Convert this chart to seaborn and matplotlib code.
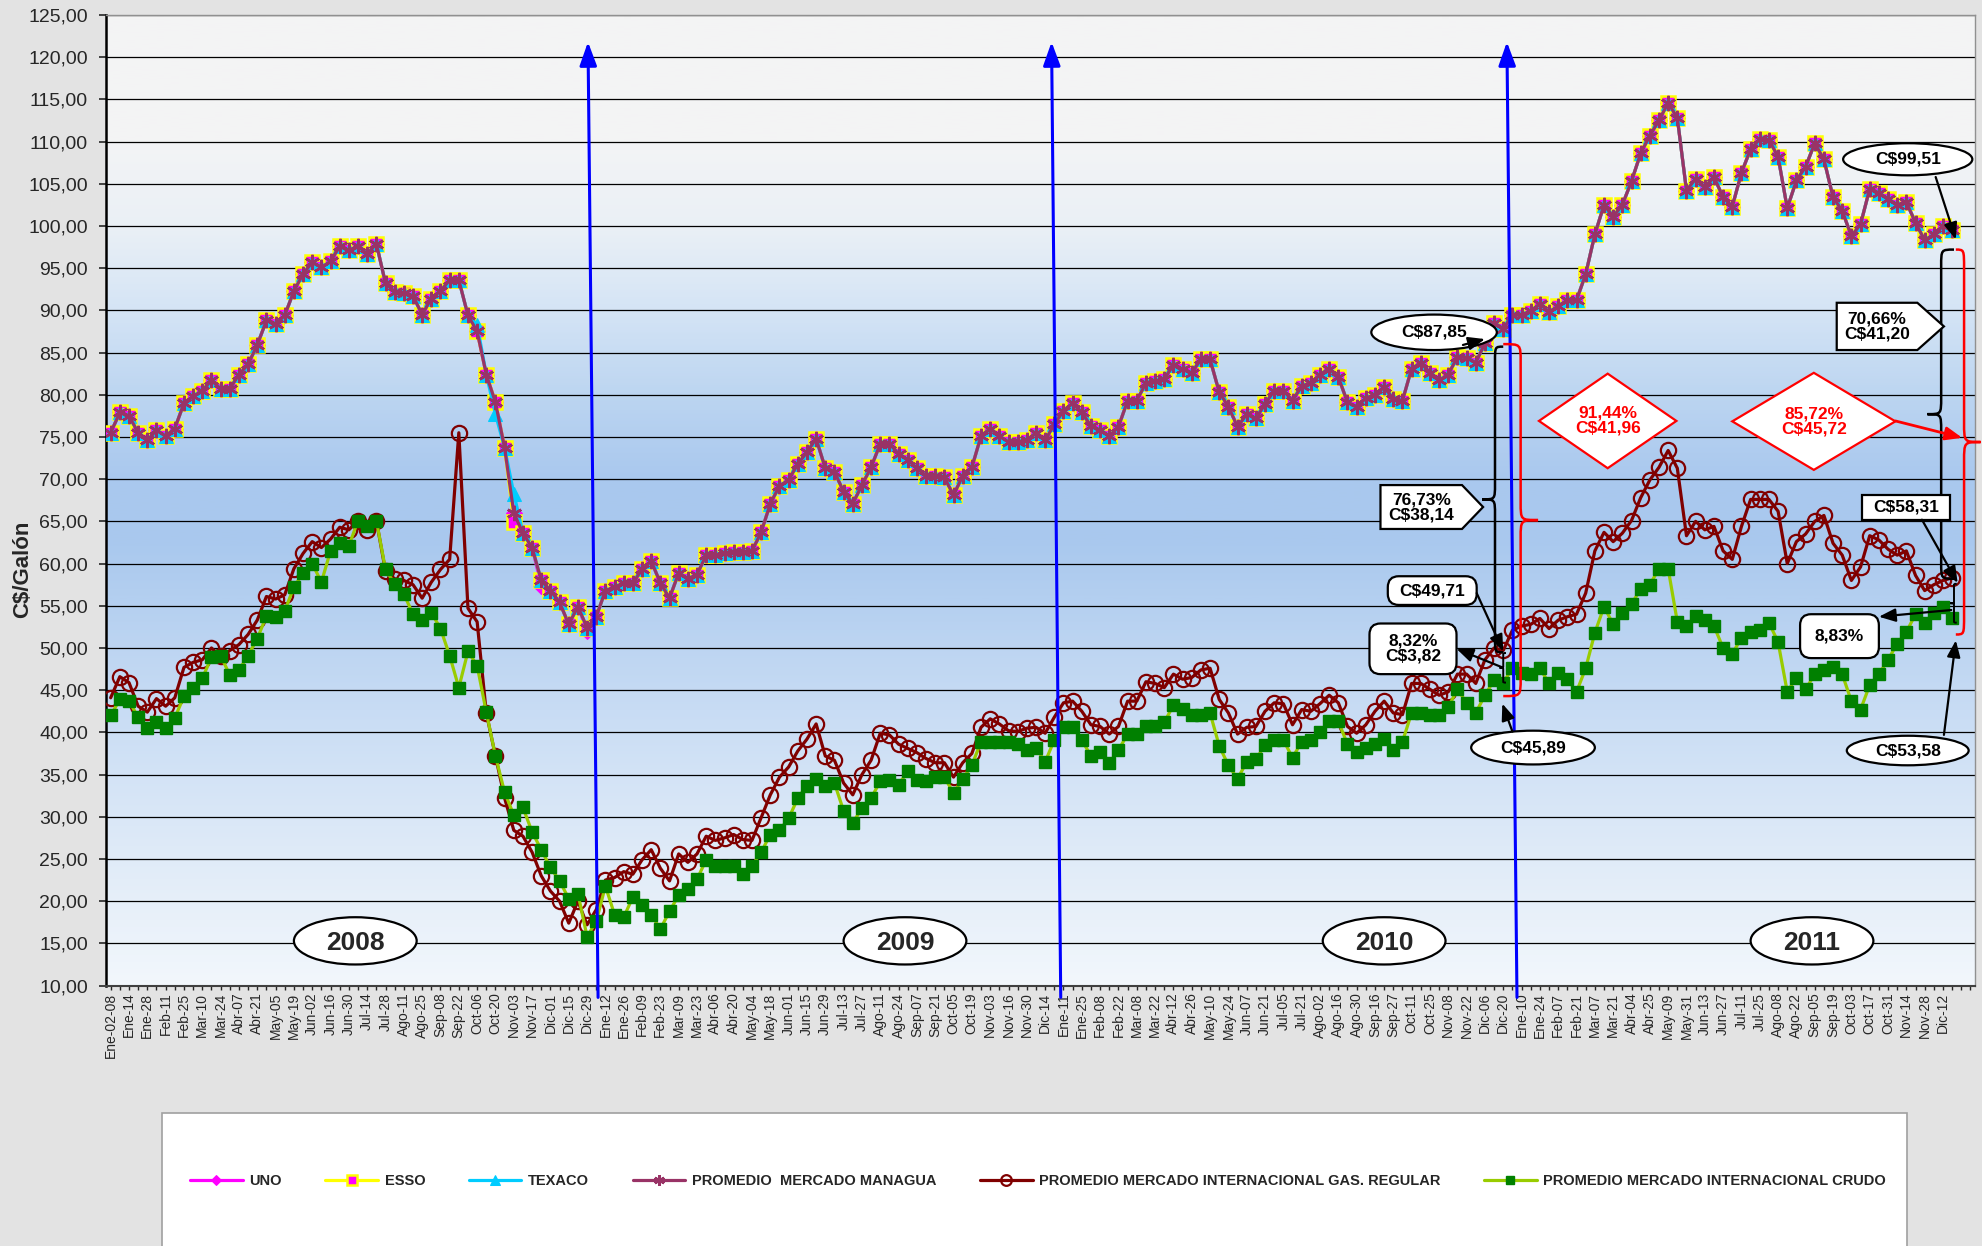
import numpy as np
import seaborn as sns
import matplotlib.pyplot as plt
from matplotlib.colors import LinearSegmentedColormap
from matplotlib.patches import Ellipse, Polygon, Rectangle, FancyBboxPatch, PathPatch
from matplotlib.path import Path
from matplotlib.ticker import FuncFormatter

# ---- data (weekly, Ene-02-08 .. Dic-19-11) ----
tick_labels = [
    # 2008
    "Ene-02-08", "Ene-14", "Ene-28", "Feb-11", "Feb-25", "Mar-10", "Mar-24", "Abr-07", "Abr-21",
    "May-05", "May-19", "Jun-02", "Jun-16", "Jun-30", "Jul-14", "Jul-28", "Ago-11", "Ago-25",
    "Sep-08", "Sep-22", "Oct-06", "Oct-20", "Nov-03", "Nov-17", "Dic-01", "Dic-15", "Dic-29",
    # 2009
    "Ene-12", "Ene-26", "Feb-09", "Feb-23", "Mar-09", "Mar-23", "Abr-06", "Abr-20", "May-04",
    "May-18", "Jun-01", "Jun-15", "Jun-29", "Jul-13", "Jul-27", "Ago-11", "Ago-24", "Sep-07",
    "Sep-21", "Oct-05", "Oct-19", "Nov-03", "Nov-16", "Nov-30", "Dic-14",
    # 2010
    "Ene-11", "Ene-25", "Feb-08", "Feb-22", "Mar-08", "Mar-22", "Abr-12", "Abr-26", "May-10",
    "May-24", "Jun-07", "Jun-21", "Jul-05", "Jul-21", "Ago-02", "Ago-16", "Ago-30", "Sep-16",
    "Sep-27", "Oct-11", "Oct-25", "Nov-08", "Nov-22", "Dic-06", "Dic-20",
    # 2011
    "Ene-10", "Ene-24", "Feb-07", "Feb-21", "Mar-07", "Mar-21", "Abr-04", "Abr-25", "May-09",
    "May-31", "Jun-13", "Jun-27", "Jul-11", "Jul-25", "Ago-08", "Ago-22", "Sep-05", "Sep-19",
    "Oct-03", "Oct-17", "Oct-31", "Nov-14", "Nov-28", "Dic-12",
]

managua = [
    75.5, 77.9, 77.5, 75.5, 74.6, 75.8, 75.1, 76.0, 79.0, 79.8,
    80.5, 81.7, 80.7, 80.7, 82.4, 83.6, 85.9, 88.8, 88.4, 89.4,
    92.3, 94.3, 95.7, 95.1, 95.8, 97.6, 97.1, 97.6, 96.7, 97.9,
    93.2, 92.2, 92.1, 91.7, 89.5, 91.4, 92.3, 93.6, 93.6, 89.4,
    87.5, 82.4, 79.1, 73.7, 66.0, 63.6, 61.9, 58.0, 56.8, 55.4,
    52.8, 54.9, 52.4, 53.7, 56.8, 57.2, 57.7, 57.7, 59.3, 60.3,
    57.7, 55.9, 58.9, 58.2, 58.7, 61.0, 61.0, 61.2, 61.4, 61.4,
    61.5, 63.7, 67.1, 69.2, 69.9, 71.8, 73.2, 74.8, 71.3, 70.9,
    68.5, 67.1, 69.3, 71.4, 74.2, 74.2, 73.0, 72.3, 71.3, 70.4,
    70.4, 70.2, 68.1, 70.4, 71.4, 75.1, 76.0, 75.1, 74.4, 74.4,
    74.6, 75.5, 74.6, 76.5, 78.1, 79.0, 77.9, 76.3, 75.8, 75.1,
    76.2, 79.3, 79.3, 81.4, 81.6, 81.9, 83.5, 83.0, 82.6, 84.2,
    84.2, 80.3, 78.6, 76.2, 77.7, 77.2, 78.9, 80.5, 80.5, 79.3,
    81.0, 81.4, 82.4, 83.1, 82.1, 79.1, 78.6, 79.6, 80.0, 80.9,
    79.5, 79.3, 83.1, 83.8, 82.6, 81.7, 82.4, 84.5, 84.4, 83.8,
    86.1, 88.5, 87.85, 89.4, 89.5, 89.9, 90.8, 89.8, 90.5, 91.2,
    91.2, 94.3, 99.0, 102.5, 101.1, 102.5, 105.3, 108.6, 110.7, 112.5,
    114.6, 112.8, 104.2, 105.6, 104.6, 105.8, 103.4, 102.3, 106.3, 109.1,
    110.3, 110.2, 108.2, 102.1, 105.4, 107.0, 109.8, 107.9, 103.4, 101.8,
    98.8, 100.2, 104.4, 103.9, 103.2, 102.5, 102.8, 100.4, 98.3, 99.0,
    100.0, 99.51,
]

gas_regular = [
    44.1, 46.6, 45.9, 43.1, 42.4, 44.0, 43.1, 44.1, 47.7, 48.3,
    48.6, 50.0, 49.0, 49.7, 50.4, 51.6, 53.3, 56.1, 55.8, 56.3,
    59.4, 61.2, 62.6, 61.9, 62.9, 64.3, 64.0, 65.1, 64.0, 65.1,
    59.1, 58.2, 58.0, 57.5, 55.9, 57.8, 59.3, 60.5, 75.5, 54.7,
    53.1, 42.3, 37.2, 32.2, 28.4, 27.7, 25.8, 23.0, 21.2, 20.0,
    17.4, 20.0, 17.2, 19.0, 22.5, 22.8, 23.5, 23.2, 24.9, 26.1,
    23.9, 22.4, 25.6, 24.6, 25.6, 27.7, 27.2, 27.5, 27.9, 27.3,
    27.2, 29.9, 32.6, 34.7, 35.9, 37.8, 39.2, 41.0, 37.2, 36.7,
    34.0, 32.6, 35.0, 36.7, 39.9, 39.7, 38.6, 38.1, 37.6, 36.9,
    36.4, 36.4, 34.7, 36.4, 37.5, 40.6, 41.6, 41.0, 40.2, 40.1,
    40.5, 40.6, 39.9, 41.8, 43.5, 43.7, 42.5, 40.9, 40.7, 39.8,
    40.7, 43.7, 43.7, 46.0, 45.8, 45.3, 46.9, 46.3, 46.5, 47.4,
    47.6, 43.9, 42.3, 39.8, 40.6, 40.7, 42.5, 43.5, 43.4, 40.9,
    42.7, 42.5, 43.4, 44.4, 43.5, 40.7, 39.9, 40.9, 42.5, 43.7,
    42.3, 42.1, 45.8, 45.8, 45.1, 44.4, 44.8, 46.9, 46.9, 45.8,
    48.6, 50.0, 49.71, 52.1, 52.6, 52.8, 53.5, 52.3, 53.3, 53.7,
    54.0, 56.5, 61.5, 63.7, 62.6, 63.6, 65.1, 67.8, 69.9, 71.4,
    73.4, 71.3, 63.3, 65.0, 64.0, 64.4, 61.5, 60.5, 64.4, 67.6,
    67.6, 67.6, 66.2, 60.0, 62.6, 63.5, 65.0, 65.7, 62.4, 61.0,
    58.0, 59.6, 63.3, 62.8, 61.7, 61.0, 61.5, 58.6, 56.8, 57.5,
    58.0, 58.31,
]

crudo = [
    42.0, 43.9, 43.7, 41.8, 40.5, 41.2, 40.5, 41.7, 44.3, 45.3,
    46.4, 48.9, 49.1, 46.8, 47.4, 49.1, 51.1, 53.8, 53.7, 54.4,
    57.2, 58.9, 60.0, 57.8, 61.5, 62.4, 62.1, 65.1, 64.4, 65.1,
    59.3, 57.6, 56.4, 54.0, 53.3, 54.2, 52.3, 49.1, 45.3, 49.6,
    47.9, 42.4, 37.2, 32.9, 30.2, 31.1, 28.2, 26.1, 24.0, 22.4,
    20.3, 20.9, 15.8, 17.6, 21.8, 18.4, 18.1, 20.5, 19.5, 18.4,
    16.7, 18.8, 20.7, 21.4, 22.6, 24.9, 24.2, 24.2, 24.2, 23.2,
    24.2, 25.8, 27.9, 28.4, 29.8, 32.2, 33.7, 34.5, 33.7, 34.0,
    30.7, 29.3, 31.0, 32.2, 34.2, 34.4, 33.8, 35.4, 34.4, 34.2,
    34.7, 34.7, 32.8, 34.5, 36.1, 38.9, 38.9, 38.9, 38.9, 38.6,
    37.9, 38.2, 36.5, 39.1, 40.6, 40.6, 39.1, 37.2, 37.7, 36.4,
    37.9, 39.8, 39.8, 40.7, 40.7, 41.2, 43.2, 42.8, 42.0, 42.1,
    42.3, 38.4, 36.1, 34.5, 36.5, 36.8, 38.5, 39.1, 39.1, 37.0,
    38.9, 39.1, 40.0, 41.3, 41.3, 38.6, 37.7, 38.2, 38.6, 39.2,
    37.9, 38.9, 42.3, 42.3, 42.0, 42.1, 43.0, 45.1, 43.5, 42.3,
    44.4, 46.2, 45.89, 47.6, 47.0, 46.9, 47.6, 45.8, 47.0, 46.3,
    44.8, 47.6, 51.8, 54.9, 52.8, 54.2, 55.2, 57.0, 57.5, 59.4,
    59.4, 53.1, 52.6, 53.8, 53.3, 52.6, 50.0, 49.3, 51.2, 51.9,
    52.1, 53.0, 50.7, 44.8, 46.5, 45.1, 46.9, 47.4, 47.7, 46.9,
    43.7, 42.7, 45.6, 46.9, 48.6, 50.5, 51.9, 54.0, 53.0, 54.2,
    54.9, 53.58,
]

# the three brands sit on the Managua average nearly everywhere; only the
# weeks where one of them visibly leaves the average are listed
uno_off = {47: 57.4, 52: 52.0}
esso_off = {44: 64.9}
texaco_off = {40: 88.3, 42: 77.7, 44: 68.3}

assert len(managua) == len(gas_regular) == len(crudo) == 2 * len(tick_labels)


def brand(offsets):
    vals = list(managua)
    for k, v in offsets.items():
        vals[k] = v
    return vals


# ---- style ----
sns.set_style("white")
plt.rcParams["font.family"] = ["Liberation Sans", "DejaVu Sans"]

fig = plt.figure(figsize=(19.83, 12.46), dpi=100, facecolor="#e3e3e3")
ax = fig.add_axes([0.0535, 0.209, 0.9425, 0.779])

weeks = np.arange(len(managua))
x_lo, x_hi = -0.5, 203.5

# plot area gradient (light at top and bottom, blue band around 65-70)
grad = LinearSegmentedColormap.from_list("area", [
    (0.0, "#f2f7fc"), (0.087, "#e6eff9"), (0.217, "#d3e3f6"), (0.348, "#bdd5f2"),
    (0.452, "#aac9ee"), (0.522, "#a9c8ee"), (0.609, "#bcd5f1"), (0.696, "#d4e4f5"),
    (0.783, "#eaf0f6"), (0.87, "#f3f4f5"), (1.0, "#f4f4f4")])
ax.imshow(np.linspace(0, 1, 400).reshape(-1, 1), extent=(x_lo, x_hi, 10, 125),
          origin="lower", aspect="auto", cmap=grad, zorder=0, interpolation="bilinear")

# ---- series ----
series = [
    ("UNO", brand(uno_off), dict(color="#ff00ff", marker="D", markersize=8,
                                 markerfacecolor="#ff00ff", markeredgecolor="#ff00ff")),
    ("ESSO", brand(esso_off), dict(color="#ffff00", marker="s", markersize=10.5,
                                   markerfacecolor="#ff00ff", markeredgecolor="#ffff00",
                                   markeredgewidth=1.8)),
    ("TEXACO", brand(texaco_off), dict(color="#00ccff", marker="^", markersize=10,
                                       markerfacecolor="#00ccff", markeredgecolor="#00ccff")),
    ("PROMEDIO  MERCADO MANAGUA", managua, dict(color="#993366", marker=(6, 2, 0), markersize=11,
                                                markerfacecolor="#993366",
                                                markeredgecolor="#993366", markeredgewidth=1.8)),
    ("PROMEDIO MERCADO INTERNACIONAL GAS. REGULAR", gas_regular,
     dict(color="#800000", marker="o", markersize=11, markerfacecolor="none",
          markeredgecolor="#800000", markeredgewidth=1.6)),
    ("PROMEDIO MERCADO INTERNACIONAL CRUDO", crudo,
     dict(color="#99cc00", marker="s", markersize=8.5, markerfacecolor="#008000",
          markeredgecolor="#008000", markeredgewidth=1)),
]
for name, vals, st in series:
    sns.lineplot(x=weeks, y=vals, ax=ax, label=name, linewidth=2.3, zorder=3, **st)

# ---- axes ----
ax.set_xlim(x_lo, x_hi)
ax.set_ylim(10, 125)
ax.set_yticks(np.arange(10, 126, 5))
ax.yaxis.set_major_formatter(FuncFormatter(lambda v, _: f"{v:.2f}".replace(".", ",")))
ax.set_xticks(np.arange(0, 2 * len(tick_labels), 2))
ax.set_xticklabels(tick_labels, rotation=90)
ax.set_xticks(np.arange(0, 204), minor=True)
ax.set_axisbelow(True)
ax.yaxis.grid(True, color="black", linewidth=0.9)
ax.xaxis.grid(False)
ax.tick_params(axis="y", direction="out", length=5, width=1.2, labelsize=14, pad=8, left=True)
ax.tick_params(axis="x", which="major", direction="out", length=3, width=1, labelsize=10, pad=2, bottom=True)
ax.tick_params(axis="x", which="minor", direction="out", length=3, width=1, bottom=True)
ax.set_xlabel("")
ax.set_ylabel("")
ax.spines["left"].set_color("black")
ax.spines["left"].set_linewidth(1.8)
ax.spines["bottom"].set_color("#404040")
ax.spines["bottom"].set_linewidth(1.5)
for s in ("top", "right"):
    ax.spines[s].set_color("#909090")
    ax.spines[s].set_linewidth(1)
fig.text(0.0116, 0.543, "C$/Galón", rotation=90, fontsize=16, fontweight="bold",
         ha="center", va="center")

# ---- year ovals ----
for yr, cx in [("2008", 26.7), ("2009", 86.7), ("2010", 139.0), ("2011", 185.7)]:
    ax.add_patch(Ellipse((cx, 15.3), 13.4, 5.6, facecolor="white", edgecolor="black",
                         linewidth=1.6, zorder=6))
    ax.text(cx, 15.1, yr, ha="center", va="center", fontsize=19, fontweight="bold", zorder=7)

# ---- blue period markers ----
for x_bot, x_top in [(53.2, 52.1), (103.7, 102.7), (153.5, 152.4)]:
    ax.annotate("", xy=(x_top, 121.8), xytext=(x_bot, 8.6),
                arrowprops=dict(arrowstyle="-|>,head_length=0.55,head_width=0.2", color="#0000ff",
                                lw=2.2, mutation_scale=26, shrinkA=0, shrinkB=0, clip_on=False),
                annotation_clip=False, zorder=5)


def callout(shape, x0, x1, y0, y1, text, color="black", tip=None, size=12.5):
    cx, cy = (x0 + x1) / 2, (y0 + y1) / 2
    if shape == "ellipse":
        patch = Ellipse((cx, cy), x1 - x0, y1 - y0)
    elif shape == "round":
        patch = FancyBboxPatch((x0, y0), x1 - x0, y1 - y0,
                               boxstyle="round,pad=0,rounding_size=1.2", mutation_aspect=1.09)
    elif shape == "rect":
        patch = Rectangle((x0, y0), x1 - x0, y1 - y0)
    elif shape == "pointer":
        patch = Polygon([(x0, y0), (x0, y1), (x1, y1), (tip, cy), (x1, y0)])
    else:
        patch = Polygon([(x0, cy), (cx, y1), (x1, cy), (cx, y0)])
    patch.set(facecolor="white", edgecolor=color, linewidth=1.6, zorder=7, clip_on=False)
    ax.add_patch(patch)
    ax.text(cx, cy, text, ha="center", va="center", fontsize=size, fontweight="bold",
            color=color, linespacing=1.0, zorder=8, clip_on=False)


def arrow(tail, head, color="black", lw=1.6):
    ax.annotate("", xy=head, xytext=tail,
                arrowprops=dict(arrowstyle="-|>,head_length=0.5,head_width=0.2", color=color,
                                lw=lw, mutation_scale=20, shrinkA=0, shrinkB=0, clip_on=False),
                annotation_clip=False, zorder=9)


def brace(x, y_top, y_bot, bulge, tip, color="black", lw=1.8):
    ym = (y_top + y_bot) / 2
    c = (y_top - y_bot) * 0.05
    xb = x + bulge
    verts = [(x, y_top), (xb, y_top), (xb, y_top), (xb, y_top - c),
             (xb, ym + c),
             (xb, ym), (xb, ym), (xb + tip, ym),
             (xb, ym), (xb, ym), (xb, ym - c),
             (xb, y_bot + c),
             (xb, y_bot), (xb, y_bot), (x, y_bot)]
    codes = [Path.MOVETO] + [Path.CURVE4] * 3 + [Path.LINETO] + [Path.CURVE4] * 6 + \
            [Path.LINETO] + [Path.CURVE4] * 3
    ax.add_patch(PathPatch(Path(verts, codes), fill=False, edgecolor=color, lw=lw,
                           zorder=6, clip_on=False))


# ---- Dec 2010 comparison ----
brace(152.0, 85.7, 49.5, -0.9, -1.4)
brace(152.0, 86.0, 44.3, 1.9, 1.9, color="#ff0000")
brace(152.3, 49.4, 45.9, -0.3, -0.4, lw=1.4)
callout("ellipse", 137.6, 151.3, 85.3, 89.5, "C$87,85")
arrow((147.6, 85.9), (150.0, 86.6))
callout("pointer", 138.6, 147.5, 64.1, 69.3, "76,73%\nC$38,14", tip=149.8)
callout("round", 139.4, 149.1, 55.1, 58.5, "C$49,71")
arrow((149.1, 56.5), (152.0, 49.6))
callout("round", 137.4, 146.9, 46.9, 52.9, "8,32%\nC$3,82")
arrow((151.9, 47.7), (146.9, 49.9))
callout("ellipse", 148.5, 162.0, 36.2, 40.2, "C$45,89")
arrow((153.0, 40.1), (151.9, 43.4))
callout("diamond", 155.9, 170.9, 71.3, 82.5, "91,44%\nC$41,96", color="#ff0000")

# ---- Dec 2011 comparison ----
brace(201.2, 97.2, 58.2, -1.4, -1.5)
brace(201.4, 97.2, 51.6, 0.9, 1.8, color="#ff0000")
brace(201.5, 57.6, 53.0, -0.3, -0.4, lw=1.4)
callout("ellipse", 189.1, 203.2, 106.0, 109.8, "C$99,51")
arrow((199.2, 105.8), (201.4, 98.4))
callout("pointer", 188.4, 197.2, 85.3, 90.9, "70,66%\nC$41,20", tip=200.1)
callout("diamond", 177.0, 194.8, 71.1, 82.6, "85,72%\nC$45,72", color="#ff0000")
arrow((194.8, 76.9), (202.1, 74.9), color="#ff0000", lw=2)
callout("rect", 191.2, 200.8, 65.2, 68.1, "C$58,31")
arrow((197.7, 65.2), (201.6, 57.7))
callout("round", 184.4, 193.0, 48.8, 54.0, "8,83%")
arrow((200.9, 54.5), (193.0, 53.7))
callout("ellipse", 189.5, 202.8, 36.1, 39.6, "C$53,58")
arrow((200.1, 39.7), (201.4, 50.9))

# ---- legend ----
handles, labels = ax.get_legend_handles_labels()
if ax.get_legend() is not None:
    ax.get_legend().remove()
fig.add_artist(Rectangle((0.0817, -0.01), 0.88, 0.1167, transform=fig.transFigure,
                         facecolor="white", edgecolor="#a0a0a0", linewidth=1.2))
fig.legend(handles, labels, loc="center", bbox_to_anchor=(0.5235, 0.0522), ncol=6,
           frameon=False, prop=dict(weight="bold", size=10.5), handlelength=3.6,
           handletextpad=0.45, columnspacing=3.0, markerscale=0.7)

fig.savefig("out.png", dpi=100, facecolor=fig.get_facecolor())
